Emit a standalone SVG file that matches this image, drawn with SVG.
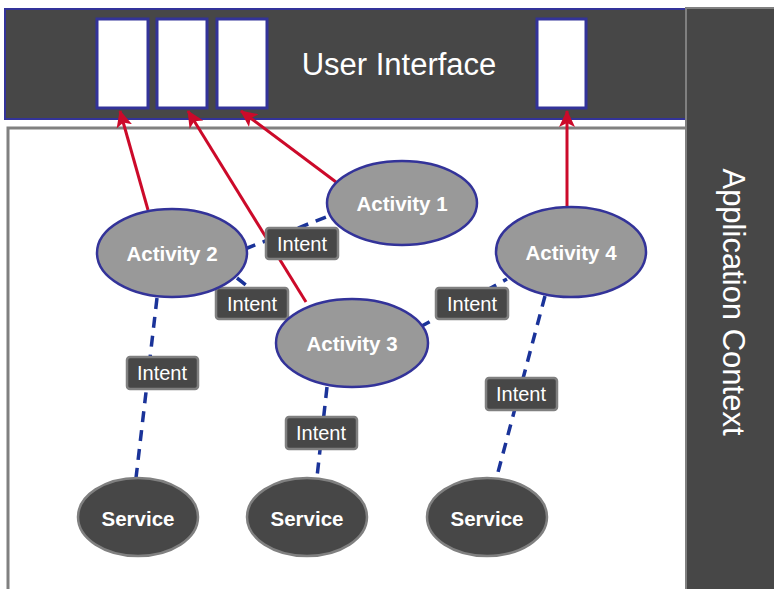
<svg xmlns="http://www.w3.org/2000/svg" width="774" height="589" viewBox="0 0 774 589">
<style>
.win{fill:#ffffff;stroke:#333399;stroke-width:3}
.act{fill:#999999;stroke:#333399;stroke-width:2.5}
.svc{fill:#474747;stroke:#808080;stroke-width:2.5}
.lbl{fill:#474747;stroke:#808080;stroke-width:2.5}
.big{font-family:"Liberation Sans",Arial,sans-serif;font-size:31px;fill:#ffffff}
.bold{font-family:"Liberation Sans",Arial,sans-serif;font-size:20.5px;font-weight:bold;fill:#ffffff;text-anchor:middle;dominant-baseline:central}
.it{font-family:"Liberation Sans",Arial,sans-serif;font-size:20px;fill:#ffffff;text-anchor:middle;dominant-baseline:central}
.red{stroke:#cc0a2a;stroke-width:3;fill:none;marker-end:url(#ah)}
.dash{stroke:#1a3399;stroke-width:3.5;fill:none;stroke-dasharray:11 8}
</style>
<defs>
<marker id="ah" markerUnits="userSpaceOnUse" markerWidth="18" markerHeight="18" viewBox="0 0 18 18" refX="16" refY="9" orient="auto">
<path d="M0,1 L17,9 L0,17 L4,9 Z" fill="#cc0a2a"/>
</marker>
</defs>
<rect x="0" y="0" width="774" height="589" fill="#ffffff"/>
<g id="app-area">
<rect x="8" y="128" width="679" height="470" fill="#ffffff" stroke="#808080" stroke-width="3"/>
</g>
<g id="user-interface">
<rect x="5" y="9" width="681" height="110" fill="#474747" stroke="#333399" stroke-width="2"/>
<rect class="win" x="97" y="19" width="51" height="89"/>
<rect class="win" x="157" y="19" width="50" height="89"/>
<rect class="win" x="217" y="19" width="50" height="89"/>
<rect class="win" x="537" y="19" width="49" height="89"/>
<text class="big" x="399" y="75" text-anchor="middle">User Interface</text>
</g>
<g id="application-context">
<rect x="686" y="8" width="92" height="590" fill="#474747" stroke="#808080" stroke-width="2"/>
<text class="big" transform="translate(733,302) rotate(90)" text-anchor="middle" dominant-baseline="central">Application Context</text>
</g>
<g id="connectors">
<line class="red" x1="148" y1="210" x2="120" y2="111"/>
<line class="red" x1="306" y1="302" x2="188" y2="111"/>
<line class="red" x1="336" y1="182" x2="241" y2="111"/>
<line class="red" x1="567" y1="207" x2="567" y2="111"/>
<line class="dash" x1="245" y1="249" x2="331" y2="215"/>
<line class="dash" x1="237" y1="278" x2="288" y2="318"/>
<line class="dash" x1="420" y1="327" x2="507" y2="279"/>
<line class="dash" x1="157" y1="298" x2="136" y2="478"/>
<line class="dash" x1="327" y1="387" x2="317" y2="477"/>
<line class="dash" x1="545" y1="296" x2="497" y2="476"/>
</g>
<g id="intent-labels">
<g id="intent-a1-a2"><rect class="lbl" x="266" y="228" width="72" height="31" rx="3"/><text class="it" x="302" y="244">Intent</text></g>
<g id="intent-a2-a3"><rect class="lbl" x="216" y="288" width="72" height="31" rx="3"/><text class="it" x="252" y="304">Intent</text></g>
<g id="intent-a3-a4"><rect class="lbl" x="436" y="288" width="72" height="31" rx="3"/><text class="it" x="472" y="304">Intent</text></g>
<g id="intent-a2-s1"><rect class="lbl" x="127" y="357" width="71" height="32" rx="3"/><text class="it" x="162" y="373">Intent</text></g>
<g id="intent-a3-s2"><rect class="lbl" x="286" y="417" width="71" height="32" rx="3"/><text class="it" x="321" y="433">Intent</text></g>
<g id="intent-a4-s3"><rect class="lbl" x="486" y="378" width="71" height="32" rx="3"/><text class="it" x="521" y="394">Intent</text></g>
</g>
<g id="activity-1"><ellipse class="act" cx="402" cy="203" rx="75" ry="42"/><text class="bold" x="402" y="203">Activity 1</text></g>
<g id="activity-2"><ellipse class="act" cx="172" cy="253" rx="75" ry="44"/><text class="bold" x="172" y="253">Activity 2</text></g>
<g id="activity-3"><ellipse class="act" cx="352" cy="343" rx="76" ry="44"/><text class="bold" x="352" y="343">Activity 3</text></g>
<g id="activity-4"><ellipse class="act" cx="571" cy="252" rx="75" ry="45"/><text class="bold" x="571" y="252">Activity 4</text></g>
<g id="service-1"><ellipse class="svc" cx="138" cy="517" rx="60" ry="39"/><text class="bold" x="138" y="518">Service</text></g>
<g id="service-2"><ellipse class="svc" cx="307" cy="517" rx="60" ry="39"/><text class="bold" x="307" y="518">Service</text></g>
<g id="service-3"><ellipse class="svc" cx="487" cy="517" rx="60" ry="39"/><text class="bold" x="487" y="518">Service</text></g>
</svg>
